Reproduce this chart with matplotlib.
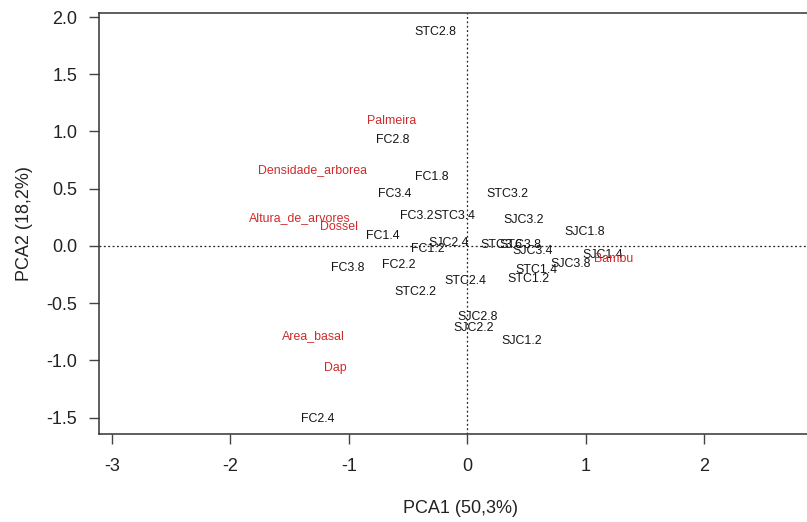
import matplotlib.pyplot as plt

plt.rcParams['font.family'] = ['Liberation Sans', 'DejaVu Sans']

# site scores (PCA1, PCA2)
site_names = ['STC2.8', 'FC2.8', 'FC1.8', 'FC3.4', 'FC3.2', 'STC3.4', 'FC1.4',
              'SJC2.4', 'FC1.2', 'FC3.8', 'FC2.2', 'STC2.4', 'STC2.2', 'STC3.2',
              'SJC3.2', 'SJC1.8', 'STC3.6', 'STC3.8', 'SJC3.4', 'SJC1.4', 'SJC3.8',
              'STC1.4', 'STC1.2', 'SJC2.8', 'SJC2.2', 'SJC1.2', 'FC2.4']
site_pc1 = [-0.27, -0.63, -0.30, -0.61, -0.43, -0.11, -0.71,
            -0.16, -0.33, -1.01, -0.58, -0.02, -0.44, 0.34,
            0.48, 0.99, 0.29, 0.45, 0.55, 1.14, 0.87,
            0.58, 0.52, 0.09, 0.05, 0.46, -1.26]
site_pc2 = [1.87, 0.93, 0.60, 0.45, 0.26, 0.26, 0.09,
            0.03, -0.03, -0.19, -0.17, -0.31, -0.40, 0.45,
            0.23, 0.12, 0.01, 0.01, -0.04, -0.08, -0.16,
            -0.21, -0.29, -0.62, -0.72, -0.83, -1.51]

# variable scores
var_names = ['Palmeira', 'Densidade_arborea', 'Altura_de_arvores', 'Dossel',
             'Bambu', 'Area_basal', 'Dap']
var_pc1 = [-0.64, -1.31, -1.41, -1.08, 1.24, -1.30, -1.11]
var_pc2 = [1.09, 0.66, 0.24, 0.17, -0.11, -0.79, -1.07]

fig = plt.figure(figsize=(8.07, 5.22), dpi=100)
ax = fig.add_axes([0.1227, 0.1695, 0.8964, 0.8056])
ax.set_xlim(-3.11, 3.0)
ax.set_ylim(-1.638, 2.035)

ax.axhline(0, color='#222222', lw=0.9, ls=(0, (1.5, 2)))
ax.axvline(0, color='#222222', lw=0.9, ls=(0, (1.5, 2)))

for name, x, y in zip(site_names, site_pc1, site_pc2):
    ax.text(x, y, name, ha='center', va='center', fontsize=8.9, color='#151515')
for name, x, y in zip(var_names, var_pc1, var_pc2):
    ax.text(x, y, name, ha='center', va='center', fontsize=8.9, color='#cf2b2b')

ax.set_xticks([-3, -2, -1, 0, 1, 2])
ax.set_xticklabels(['-3', '-2', '-1', '0', '1', '2'])
ax.set_yticks([-1.5, -1.0, -0.5, 0.0, 0.5, 1.0, 1.5, 2.0])
ax.set_yticklabels(['-1.5', '-1.0', '-0.5', '0.0', '0.5', '1.0', '1.5', '2.0'])
ax.tick_params(axis='both', direction='out', length=7.5, width=1.0,
               color='#444444', labelsize=13, labelcolor='#222222')
ax.tick_params(axis='x', pad=10)
ax.tick_params(axis='y', pad=8)

for s in ax.spines.values():
    s.set_color('#333333')
    s.set_linewidth(1.1)

ax.set_xlabel('PCA1 (50,3%)', fontsize=13, color='#222222', labelpad=18)
ax.set_ylabel('PCA2 (18,2%)', fontsize=13, color='#222222', labelpad=10)

fig.savefig('out.png', dpi=100)
